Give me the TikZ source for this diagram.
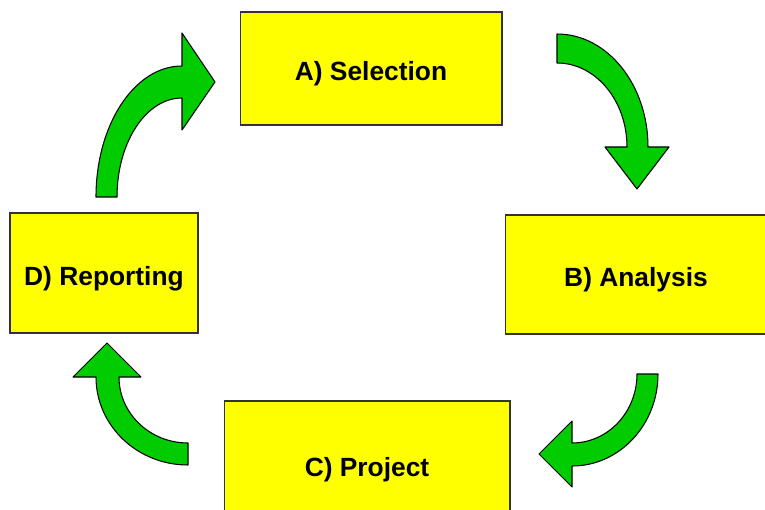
\documentclass[tikz,border=0pt]{standalone}
\usepackage{fontspec}
\setmainfont{Liberation Sans}

\definecolor{stageyellow}{RGB}{255,255,0}
\definecolor{arrowgreen}{RGB}{0,204,0}

\tikzset{
	stagebox/.style={draw=black!80, line width=0.6pt, fill=stageyellow, inner sep=0pt,
		text height=14pt, text depth=0pt,
		font=\bfseries\fontsize{15}{18}\selectfont},
	cyclearrow/.style={draw=black, line width=0.6pt, fill=arrowgreen, line join=round}
}

\begin{document}
\begin{tikzpicture}[x=0.02cm, y=-0.02cm]
	\clip (0,0) rectangle (765,510);
	\fill[white] (0,0) rectangle (765,510);

	% Stage boxes
	\node[stagebox, minimum width=5.24cm, minimum height=2.26cm] (sel) at (371,68.5) {A) Selection};
	\node[stagebox, minimum width=5.24cm, minimum height=2.38cm] (ana) at (636,274.5) {B) Analysis};
	\node[stagebox, minimum width=5.72cm, minimum height=2.52cm] (proj) at (367,464) {C) Project};
	\node[stagebox, minimum width=3.76cm, minimum height=2.40cm] (rep) at (104,273) {D) Reporting};

	% Arrow from selection down to analysis
	\draw[cyclearrow] (557,34) arc (-90:0:91 and 113)
		-- (669,147) -- (637,189) -- (605,147) -- (627,147)
		arc (0:-90:70 and 84) -- cycle;

	% Arrow from analysis round to project
	\draw[cyclearrow] (658,374) arc (0:90:86 and 92)
		-- (572,487) -- (539,454) -- (572,421) -- (572,443)
		arc (90:0:65 and 69) -- cycle;

	% Arrow from project up to reporting
	\draw[cyclearrow] (188,465) arc (90:180:92 and 88)
		-- (73,377) -- (107,343) -- (141,377) -- (119,377)
		arc (180:90:69 and 66) -- cycle;

	% Arrow from reporting over to selection
	\draw[cyclearrow] (96,197) arc (180:270:86 and 131)
		-- (182,33) -- (215,82) -- (182,130) -- (182,98)
		arc (270:180:65 and 99) -- cycle;
\end{tikzpicture}
\end{document}
